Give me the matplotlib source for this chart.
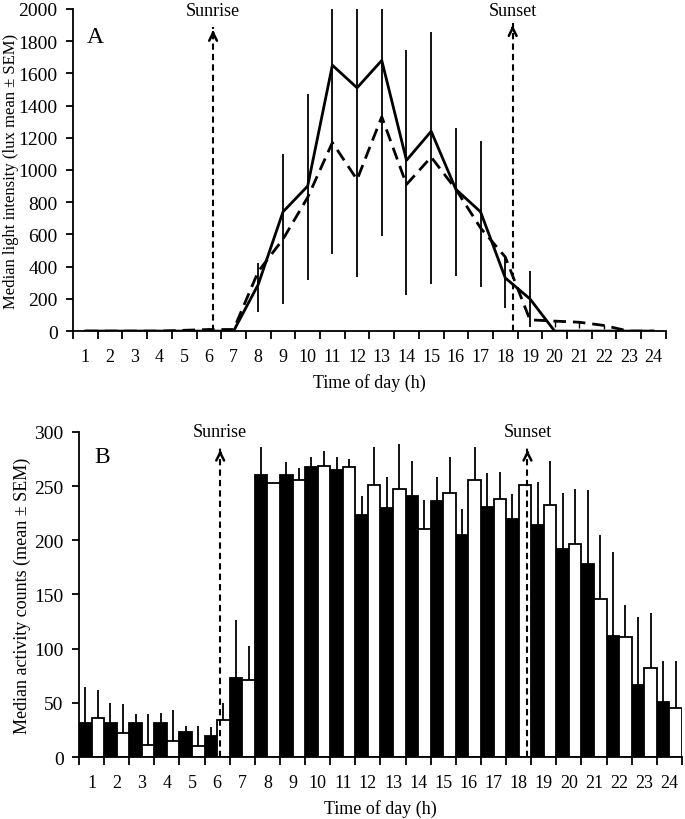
import numpy as np
import matplotlib
matplotlib.use("Agg")
import matplotlib.pyplot as plt

plt.rcParams['font.family'] = ['Liberation Serif', 'DejaVu Serif']

hours = list(range(1, 25))

# panel A: light intensity (lux)
light_solid = [0, 0, 0, 0, 0, 0, 0, 290, 740, 900, 1650, 1510, 1680, 1060, 1240,
               880, 740, 330, 200, 0, 0, 0, 0, 0]
light_dashed = [0, 0, 0, 0, 5, 10, 10, 370, 570, 830, 1170, 940, 1330, 910, 1080,
                880, 640, 460, 70, 62, 55, 35, 0, 0]
err_low = [np.nan] * 7 + [120, 170, 320, 480, 335, 590, 224, 292, 342, 273, 143, 25] + [np.nan] * 5
err_high = [np.nan] * 7 + [420, 1100, 1470, 2000, 2000, 2000, 1745, 1857, 1260, 1180, 466, 372] + [np.nan] * 5
dash_err_low = [np.nan] * 19 + [25, 20, 15] + [np.nan] * 2

# panel B: activity counts
act_black = [31, 31, 31, 31, 23, 19, 73, 260, 260, 268, 265, 223, 230, 241, 236,
             205, 231, 220, 214, 192, 178, 112, 66, 51]
act_black_err = [65, 50, 40, 41, 29, 28, 126, 286, 272, 277, 277, 241, 258, 273, 258,
                 229, 262, 243, 254, 244, 246, 189, 129, 89]
act_white = [36, 22, 11, 15, 10, 34, 71, 253, 256, 269, 268, 251, 247, 210, 244,
             256, 238, 251, 233, 197, 146, 111, 82, 45]
act_white_err = [62, 49, 40, 43, 29, 50, 102, 253, 267, 282, 275, 286, 289, 237, 277,
                 286, 263, 251, 273, 247, 205, 140, 133, 89]

fig = plt.figure(figsize=(6.85, 8.2), dpi=100)
axA = fig.add_axes([0.1066, 0.595, 0.8654, 0.393])
axB = fig.add_axes([0.1153, 0.0756, 0.8803, 0.3964])


def style_axis(ax):
    for s in ['top', 'right']:
        ax.spines[s].set_visible(False)
    for s in ['left', 'bottom']:
        ax.spines[s].set_linewidth(1.3)
    ax.set_xlim(0.5, 24.5)
    ax.set_xticks(np.arange(0.5, 25, 1))
    ax.set_xticklabels([])
    ax.set_xticks(hours, minor=True)
    ax.set_xticklabels([str(h) for h in hours], minor=True)
    ax.tick_params(axis='x', which='major', length=6, width=1.3, direction='out')
    ax.tick_params(axis='x', which='minor', length=0, pad=12, labelsize=13)
    ax.tick_params(axis='y', length=5, width=1.3, labelsize=14, pad=6)
    ax.set_xlabel('Time of day (h)', fontsize=13, labelpad=6)


def sun_arrow(ax, x, top, label, text_y):
    ax.plot([x, x], [0, top], color='black', lw=1.5, ls=(0, (3, 2)), zorder=5, clip_on=False)
    ax.annotate('', xy=(x, top), xytext=(x, top * 0.97),
                arrowprops=dict(arrowstyle='->', lw=1.8, color='black',
                                mutation_scale=14), zorder=6, annotation_clip=False)
    ax.text(x, text_y, label, ha='center', va='center', fontsize=13, clip_on=False)


# ---- panel A ----
style_axis(axA)
axA.vlines(hours, err_low, err_high, color='black', lw=1.3)
axA.vlines(hours, dash_err_low, light_dashed, color='black', lw=1.0)
axA.plot(hours, light_solid, color='black', lw=2.0)
axA.plot(hours, light_dashed, color='black', lw=2.0, ls=(0, (4.5, 2.5)))
axA.set_ylim(0, 2000)
axA.set_yticks(range(0, 2001, 200))
axA.set_ylabel('Median light intensity (lux mean \u00b1 SEM)', fontsize=12)
axA.yaxis.set_label_coords(-0.091, 0.5)
axA.text(1.07, 1830, 'A', fontsize=17, va='center', ha='left')
sun_arrow(axA, 6.17, 1885, 'Sunrise', 1990)
sun_arrow(axA, 18.3, 1915, 'Sunset', 1990)

# ---- panel B ----
style_axis(axB)
x = np.array(hours)
axB.vlines(x - 0.25, act_black, act_black_err, color='black', lw=1.3)
axB.vlines(x + 0.25, act_white, act_white_err, color='black', lw=1.3)
axB.bar(x - 0.25, act_black, width=0.5, color='black', edgecolor='black', lw=1.3, zorder=2)
axB.bar(x + 0.25, act_white, width=0.5, color='white', edgecolor='black', lw=1.3, zorder=2)
axB.set_ylim(0, 300)
axB.set_yticks(range(0, 301, 50))
axB.set_ylabel('Median activity counts (mean \u00b1 SEM)', fontsize=13)
axB.yaxis.set_label_coords(-0.08, 0.5)
axB.text(1.1, 277, 'B', fontsize=17, va='center')
sun_arrow(axB, 6.12, 286, 'Sunrise', 300)
sun_arrow(axB, 18.35, 286, 'Sunset', 300)

fig.savefig('out.png', dpi=100)
